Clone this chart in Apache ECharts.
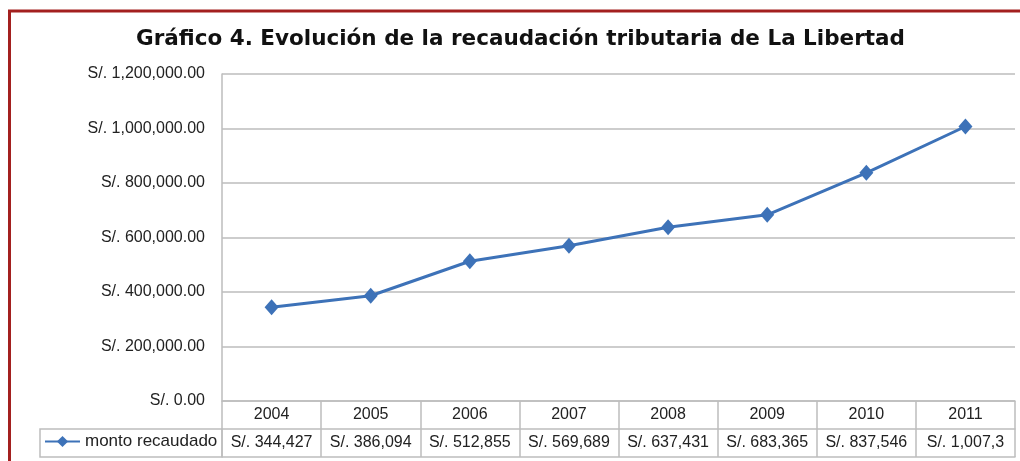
<!DOCTYPE html>
<html><head><meta charset="utf-8">
<script src="https://cdn.jsdelivr.net/npm/echarts@6/dist/echarts.min.js"></script>
<style>html,body{margin:0;padding:0;background:#fff}#c{width:1020px;height:461px}</style>
</head><body><div id="c"></div>
<script>
var titleText = 'Gráfico 4. Evolución de la recaudación tributaria de La Libertad';
var seriesName = 'monto recaudado';
var years = ['2004','2005','2006','2007','2008','2009','2010','2011'];
var montoRecaudado = [344427, 386094, 512855, 569689, 637431, 683365, 837546, 1007300];
var tableLabels = ['S/. 344,427','S/. 386,094','S/. 512,855','S/. 569,689','S/. 637,431','S/. 683,365','S/. 837,546','S/. 1,007,3'];
var yMin = 0, yMax = 1200000, yStep = 200000;

function fmtY(v){
  if (v === 0) return 'S/. 0.00';
  var s = String(Math.round(v)).replace(/\B(?=(\d{3})+(?!\d))/g, ',');
  return 'S/. ' + s + '.00';
}
var FONT = 'Liberation Sans';
var GRID_C = '#bdbdbd';
var chart = echarts.init(document.getElementById('c'), null, {renderer:'canvas'});
chart.setOption({
  animation:false,
  backgroundColor:'#fff',
  title:{text:titleText, left:136, top:28, padding:0,
    textStyle:{fontFamily:'DejaVu Sans', fontWeight:'bold', fontSize:21.5, color:'#111'}},
  legend:{data:[seriesName], left:44, top:433, itemWidth:35, itemHeight:14, itemGap:4,
    textStyle:{fontFamily:FONT, fontSize:17, color:'#222'}, padding:0},
  grid:{left:222, right:5, top:74, bottom:60, containLabel:false},
  xAxis:[
    {type:'category', data:years, position:'bottom', boundaryGap:true,
     axisLine:{show:true, lineStyle:{color:GRID_C, width:1.5}},
     axisTick:{show:true, alignWithLabel:false, length:56, lineStyle:{color:GRID_C, width:1.5}},
     axisLabel:{interval:0, margin:6, fontFamily:FONT, fontSize:16, color:'#222'}},
    {type:'category', data:tableLabels, position:'bottom', offset:28, boundaryGap:true,
     axisLine:{show:true, lineStyle:{color:GRID_C, width:1.5}},
     axisTick:{show:false},
     axisLabel:{interval:0, margin:6, fontFamily:FONT, fontSize:16, color:'#222'}},
    {type:'category', data:years, position:'bottom', offset:56, boundaryGap:true,
     axisLine:{show:true, lineStyle:{color:GRID_C, width:1.5}},
     axisTick:{show:false}, axisLabel:{show:false}}
  ],
  yAxis:{type:'value', min:yMin, max:yMax, interval:yStep,
    axisLine:{show:true, lineStyle:{color:GRID_C, width:1.5}},
    axisTick:{show:false},
    splitLine:{show:true, lineStyle:{color:GRID_C, width:1.5}},
    axisLabel:{margin:17, formatter:fmtY, fontFamily:FONT, fontSize:16, color:'#222'}},
  graphic:[
    {type:'rect', shape:{x:40, y:429, width:182, height:28}, style:{fill:'none', stroke:GRID_C, lineWidth:1.5}, z:0},
    {type:'line', shape:{x1:8, y1:11, x2:1020, y2:11}, style:{stroke:'#a3201f', lineWidth:3}},
    {type:'line', shape:{x1:9.5, y1:11, x2:9.5, y2:461}, style:{stroke:'#a3201f', lineWidth:3}}
  ],
  series:[{name:seriesName, type:'line', xAxisIndex:0, data:montoRecaudado,
    symbol:'diamond', symbolSize:[14,16],
    lineStyle:{color:'#3d72b8', width:3},
    itemStyle:{color:'#3d72b8'}}]
});
</script></body></html>
